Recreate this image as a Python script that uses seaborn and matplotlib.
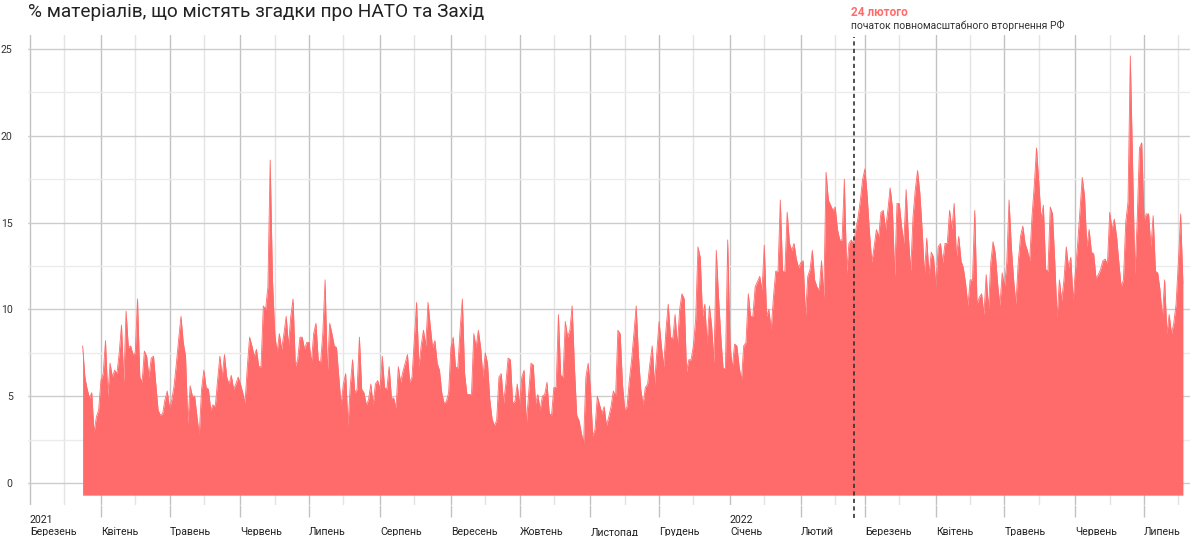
import matplotlib
matplotlib.use("Agg")
import matplotlib.dates as mdates
import matplotlib.pyplot as plt
import pandas as pd
import seaborn as sns

TITLE = "% матеріалів, що містять згадки про НАТО та Захід"
START_DATE = "2021-03-24"
INVASION_DATE = "2022-02-24"
INVASION_LABEL = "24 лютого"
INVASION_NOTE = "початок повномасштабного вторгнення РФ"

# daily share of materials, %
SHARE = [
    # 24 Mar - 18 Jun 2021
    7.9, 6.1, 5.4, 4.9, 5.2, 2.9, 3.8, 4.2, 5.9, 6.3,
    8.2, 5.0, 6.9, 6.1, 6.5, 6.3, 7.5, 9.1, 5.8, 9.9,
    7.8, 7.9, 7.4, 7.5, 10.6, 6.1, 5.8, 7.6, 7.3, 6.1,
    7.2, 7.3, 5.7, 4.2, 3.9, 4.0, 4.8, 5.3, 4.3, 4.8,
    5.6, 6.9, 8.3, 9.6, 8.1, 7.3, 3.4, 5.6, 5.0, 5.0,
    3.8, 2.8, 5.4, 6.5, 5.5, 5.4, 4.2, 4.5, 4.4, 5.9,
    7.3, 6.1, 7.4, 6.1, 5.7, 6.2, 5.4, 5.7, 6.1, 5.7,
    5.2, 4.6, 6.7, 8.4, 7.9, 7.3, 7.7, 6.7, 6.7, 10.2,
    10.0, 11.3, 18.6, 11.7, 8.6, 7.5, 8.6,
    # 19 Jun - 18 Sep 2021
    7.7, 8.6, 9.6, 7.9, 9.6, 10.6, 6.7, 7.1, 8.4, 8.4,
    7.7, 8.1, 8.1, 6.9, 8.6, 9.2, 7.1, 6.9, 8.6, 11.7,
    6.3, 9.2, 8.6, 7.9, 7.8, 6.1, 4.5, 5.7, 6.3, 3.3,
    5.6, 7.1, 5.2, 5.4, 8.4, 5.4, 5.2, 4.5, 4.8, 5.7,
    4.5, 5.7, 5.9, 5.4, 7.3, 5.5, 5.4, 6.7, 4.9, 4.9,
    4.3, 6.7, 5.8, 6.4, 6.9, 7.4, 5.8, 6.1, 8.3, 10.4,
    6.7, 7.9, 8.8, 7.9, 10.4, 9.0, 7.8, 8.2, 6.9, 6.5,
    5.2, 4.6, 4.7, 5.2, 7.8, 8.4, 6.7, 6.6, 8.8, 10.6,
    6.3, 5.1, 5.1, 5.1, 8.6, 7.8, 8.8, 7.8, 6.1, 7.5,
    6.9, 4.8,
    # 19 Sep - 14 Dec 2021
    3.7, 3.3, 3.6, 6.1, 6.3, 4.6, 5.7, 7.2, 7.1, 4.6,
    4.7, 5.7, 4.5, 6.1, 6.5, 3.4, 5.2, 6.9, 6.8, 4.6,
    5.1, 4.2, 5.0, 5.1, 5.8, 4.0, 3.9, 5.5, 5.5, 9.7,
    6.2, 6.1, 9.3, 8.4, 8.8, 10.2, 6.7, 3.9, 3.6, 2.9,
    2.3, 6.1, 6.9, 5.4, 2.7, 3.1, 5.0, 4.5, 4.0, 4.4,
    3.3, 3.8, 4.4, 5.3, 5.0, 8.8, 8.6, 5.7, 4.2, 4.4,
    5.9, 7.1, 8.6, 10.2, 7.3, 5.4, 4.5, 5.5, 5.7, 6.9,
    7.9, 5.7, 7.5, 9.3, 7.9, 6.7, 8.8, 10.3, 8.4, 8.3,
    9.7, 7.9, 10.0, 10.9, 10.6, 6.4, 7.1,
    # 15 Dec 2021 - 16 Mar 2022
    7.1, 7.9, 9.4, 13.6, 13.0, 9.6, 10.3, 8.0, 10.2, 9.0,
    6.9, 13.4, 10.7, 8.4, 6.6, 6.6, 14.0, 8.0, 6.6, 8.0,
    7.9, 6.7, 5.9, 7.9, 8.1, 10.9, 9.6, 9.6, 11.3, 11.6,
    11.9, 11.1, 13.7, 9.6, 10.0, 8.8, 10.7, 12.2, 12.2, 16.3,
    12.2, 12.2, 15.6, 13.8, 13.4, 13.8, 12.9, 12.4, 12.7, 12.8,
    9.6, 11.9, 12.3, 13.4, 11.7, 11.3, 11.1, 12.8, 10.7, 17.9,
    16.3, 16.0, 15.7, 15.9, 14.6, 14.0, 14.0, 17.5, 12.1, 13.8,
    14.0, 13.8, 14.6, 15.3, 16.3, 17.5, 18.1, 16.5, 14.4, 12.7,
    13.6, 14.6, 14.2, 15.6, 15.7, 14.6, 15.7, 17.0, 15.9, 11.9,
    16.1, 16.1,
    # 17 Mar - 3 Jun 2022
    14.8, 13.8, 16.9, 14.2, 12.2, 15.3, 16.9, 18.0, 16.7, 14.6,
    12.0, 14.1, 12.0, 13.3, 13.0, 11.3, 13.6, 13.8, 12.7, 13.8,
    13.8, 15.7, 14.6, 16.1, 13.0, 14.2, 12.8, 12.4, 11.5, 10.2,
    11.7, 11.7, 15.7, 10.3, 10.7, 10.9, 9.7, 12.0, 10.0, 12.7,
    13.9, 13.2, 11.5, 10.2, 12.1, 11.3, 12.7, 16.3, 13.6, 11.7,
    10.3, 12.7, 14.2, 14.8, 13.8, 13.4, 12.8, 15.3, 17.1, 19.3,
    17.3, 15.2, 16.0, 12.3, 12.2, 15.9, 15.5, 12.7, 9.5, 11.7,
    10.5, 11.7, 13.6, 12.4, 13.0, 10.5, 12.2, 13.8, 15.7,
    # 4 Jun - 18 Jul 2022
    17.6, 16.5, 13.6, 14.6, 13.3, 13.2, 11.8, 12.0, 12.3, 12.8,
    12.9, 12.6, 15.6, 14.6, 15.2, 14.2, 12.7, 11.3, 11.7, 15.0,
    16.2, 24.6, 18.4, 12.0, 15.1, 19.3, 19.6, 15.1, 15.5, 15.5,
    13.6, 15.4, 12.2, 12.1, 11.1, 9.5, 11.7, 8.6, 9.7, 8.6,
    9.2, 10.3, 12.7, 15.5, 11.5,
]

MONTH_LABELS = [
    "Березень", "Квітень", "Травень", "Червень", "Липень", "Серпень",
    "Вересень", "Жовтень", "Листопад", "Грудень", "Січень", "Лютий",
    "Березень", "Квітень", "Травень", "Червень", "Липень",
]
YEAR_LABELS = {"2021": "2021-03-01", "2022": "2022-01-01"}

RED = "#ff6b6b"


def main():
    df = pd.DataFrame({
        "date": pd.date_range(START_DATE, periods=len(SHARE), freq="D"),
        "share": SHARE,
    })
    month_starts = pd.date_range("2021-03-01", periods=len(MONTH_LABELS), freq="MS")
    mid_months = month_starts + pd.Timedelta(days=15)

    sns.set_theme(style="white")
    plt.rcParams["font.family"] = ["Roboto", "DejaVu Sans"]

    fig = plt.figure(figsize=(11.96, 5.36), dpi=100)
    ax = fig.add_axes([28 / 1196, 31 / 536, 1162 / 1196, 470 / 536])

    ax.fill_between(df["date"], -0.7, df["share"], color=RED, lw=0, zorder=2)
    sns.lineplot(data=df, x="date", y="share", color=RED, lw=0.6, ax=ax, zorder=3)

    x0 = mdates.date2num(pd.Timestamp("2021-03-01"))
    ax.set_xlim(x0 - 0.87, x0 + 507.1)
    ax.set_ylim(-1.267, 25.806)

    ax.set_xticks(month_starts)
    ax.set_xticklabels(MONTH_LABELS, ha="left")
    ax.set_xticks(mid_months, minor=True)
    ax.set_yticks(range(0, 26, 5))
    ax.set_yticks([2.5, 7.5, 12.5, 17.5, 22.5], minor=True)

    ax.grid(which="major", axis="x", color="#c2c2c2", lw=1)
    ax.grid(which="minor", axis="x", color="#e4e4e4", lw=1)
    ax.grid(which="major", axis="y", color="#cccccc", lw=1)
    ax.grid(which="minor", axis="y", color="#ebebeb", lw=1)
    ax.set_axisbelow(True)

    ax.tick_params(axis="x", which="major", bottom=True, length=8.5, width=1,
                   color="#c2c2c2", pad=7.5, labelsize=7.6, labelcolor="#222222")
    ax.tick_params(axis="x", which="minor", bottom=False)
    ax.tick_params(axis="y", which="both", left=False, pad=5,
                   labelsize=7.6, labelcolor="#333333")

    # no outer tick under months that carry a year label
    year_dates = [pd.Timestamp(d) for d in YEAR_LABELS.values()]
    for tick, m in zip(ax.xaxis.get_major_ticks(), month_starts):
        if m in year_dates:
            tick.tick1line.set_visible(False)

    for year, d in YEAR_LABELS.items():
        ax.text(pd.Timestamp(d), -0.032, year, transform=ax.get_xaxis_transform(),
                ha="left", va="center", fontsize=7.6, color="#222222")

    ax.axvline(pd.Timestamp(INVASION_DATE), ymin=-0.028, ymax=0.996, color="#333333",
               lw=1.2, ls=(0, (2.5, 2)), clip_on=False, zorder=4)

    for side in ["top", "right", "bottom", "left"]:
        ax.spines[side].set_visible(False)
    ax.set_xlabel("")
    ax.set_ylabel("")

    fig.text(28 / 1196, 1 - 17 / 536, TITLE, fontsize=13.7, va="baseline", color="#222222")
    fig.text(851 / 1196, 1 - 13 / 536, INVASION_LABEL, fontsize=8.5, fontweight="bold",
             va="center", color=RED)
    fig.text(851 / 1196, 1 - 25.5 / 536, INVASION_NOTE, fontsize=7.5, va="center",
             color="#333333")

    fig.savefig("out.png", dpi=100)


if __name__ == "__main__":
    main()
